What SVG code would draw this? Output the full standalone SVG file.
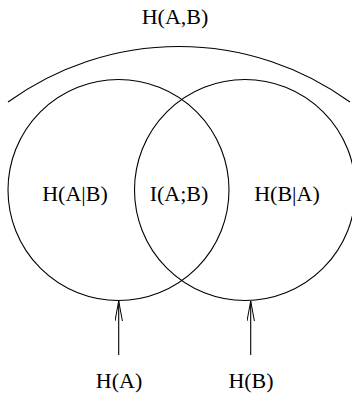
<svg xmlns="http://www.w3.org/2000/svg" width="352" height="393" viewBox="0 0 352 393">
<style>
.s{fill:none;stroke:#000;stroke-width:1.1}
.t{font-family:"Liberation Serif","Times New Roman",serif;font-size:22px;fill:#000;text-anchor:middle}
</style>
<defs>
<marker id="ah" markerWidth="22" markerHeight="10" refX="20" refY="4" orient="auto" markerUnits="userSpaceOnUse">
<path d="M0,0.3 L20,4 L0,7.7" fill="none" stroke="#000" stroke-width="1"/>
</marker>
</defs>
<rect width="352" height="393" fill="#fff"/>
<g id="HAB">
<path class="s" d="M8,102 A291,291 0 0 1 350,102"/>
<text class="t" x="175" y="24">H(A,B)</text>
</g>
<g id="HA">
<circle class="s" cx="118.5" cy="190" r="110.5"/>
<text class="t" x="119" y="388">H(A)</text>
</g>
<g id="HB">
<circle class="s" cx="245" cy="190" r="110.5"/>
<text class="t" x="251" y="388">H(B)</text>
</g>
<g id="HAgB"><text class="t" x="75" y="201">H(A|B)</text></g>
<g id="IAB"><text class="t" x="179" y="201">I(A;B)</text></g>
<g id="HBgA"><text class="t" x="287" y="201">H(B|A)</text></g>
<g id="connectors">
<line class="s" x1="118.7" y1="355" x2="118.7" y2="301" marker-end="url(#ah)"/>
<line class="s" x1="250.7" y1="355" x2="250.7" y2="301" marker-end="url(#ah)"/>
</g>
</svg>
